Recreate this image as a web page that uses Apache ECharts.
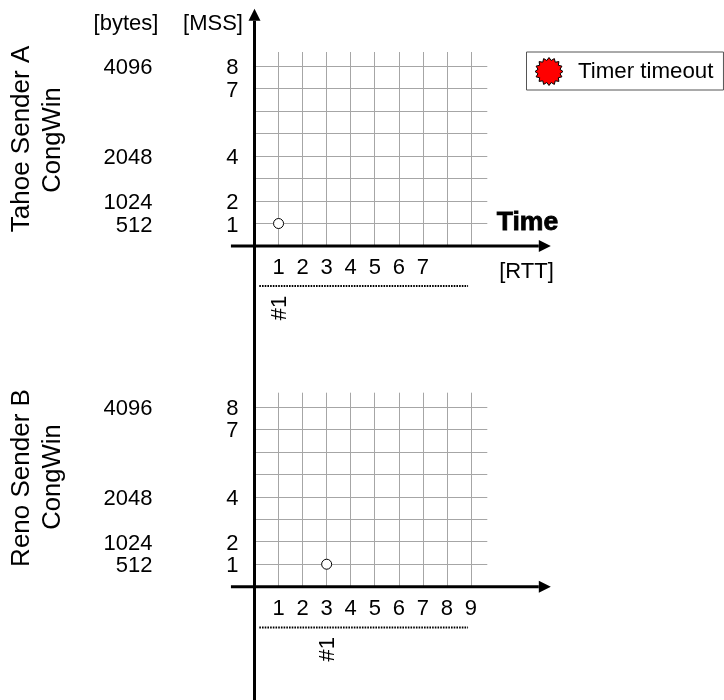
<!DOCTYPE html>
<html><head><meta charset="utf-8">
<style>html,body{margin:0;padding:0;background:#fff}#c{width:724px;height:700px}</style>
<script src="https://cdn.jsdelivr.net/npm/echarts@6/dist/echarts.min.js"></script>
</head><body><div id="c"></div>
<script>
const FONT = '"Liberation Sans", Arial, sans-serif';
const rttTicksA = [1,2,3,4,5,6,7];
const rttTicksB = [1,2,3,4,5,6,7,8,9];
const mssTicks = [1,2,4,7,8];
const byteTicks = [512,1024,2048,4096];
const pointA = [[1,1]];
const pointB = [[3,1]];
const roundLabelA = [[1,-2.76]];
const roundLabelB = [[3,-2.78]];
const dottedA = [[0.2,-1.78,8.88,-1.78]];
const dottedB = [[0.2,-1.81,8.88,-1.81]];
const timeArrow = [[-0.98,0,12.32,0]];
const yArrow = [[0,-20.5,0,10.55]];
const X_MAX = 9.68, Y_MAX = 8.63;

function starPath(n, R, r){
  let d = '';
  for (let i=0;i<n*2;i++){
    const a = Math.PI*i/n, q = i%2?r:R;
    d += (i?'L':'M') + (50+q*Math.sin(a)).toFixed(2) + ' ' + (50-q*Math.cos(a)).toFixed(2);
  }
  return 'path://' + d + 'Z';
}
const grids = [
  {left:254.5, top:52, width:232.8, height:194},
  {left:254.5, top:392.7, width:232.8, height:194}
];
const yRich = {a:{fontFamily:FONT, fontSize:22, color:'#000', padding:[4,0,0,0]}};
const xAxisOf = (i, ticks) => ({
  type:'value', gridIndex:i, min:0, max:X_MAX, interval:1,
  axisLine:{show:false}, axisTick:{show:false},
  splitLine:{show:true, showMinLine:false, showMaxLine:false, lineStyle:{color:'#a6a6a6',width:1}},
  axisLabel:{show:true, showMaxLabel:false, margin:11, fontFamily:FONT, fontSize:22, color:'#000', hideOverlap:false,
    formatter:v => ticks.includes(v) ? String(v) : ''}
});
const yMss = i => ({
  type:'value', gridIndex:i, min:0, max:Y_MAX, interval:1, position:'left',
  axisLine:{show:false}, axisTick:{show:false},
  splitLine:{show:true, showMinLine:false, showMaxLine:false, lineStyle:{color:'#a6a6a6',width:1}},
  axisLabel:{show:true, showMaxLabel:false, margin:16, rich:yRich, hideOverlap:false,
    formatter:v => mssTicks.includes(v) ? '{a|'+v+'}' : ''}
});
const yBytes = i => ({
  type:'value', gridIndex:i, min:0, max:Y_MAX*512, interval:512, position:'left', offset:86,
  axisLine:{show:false}, axisTick:{show:false}, splitLine:{show:false},
  axisLabel:{show:true, showMaxLabel:false, margin:16, rich:yRich, hideOverlap:false,
    formatter:v => byteTicks.includes(v) ? '{a|'+v+'}' : ''}
});
// straight segment with a filled arrow head at its far end, mapped through the axes
const arrowRender = (params, api) => {
  const a = api.coord([api.value(0),api.value(1)]), b = api.coord([api.value(2),api.value(3)]);
  const L = Math.hypot(b[0]-a[0],b[1]-a[1]), ux=(b[0]-a[0])/L, uy=(b[1]-a[1])/L, h=12, w=6;
  const base=[b[0]-ux*h,b[1]-uy*h];
  return {type:'group',children:[
    {type:'line',shape:{x1:a[0],y1:a[1],x2:base[0],y2:base[1]},style:{stroke:'#000',lineWidth:3}},
    {type:'polygon',shape:{points:[b,[base[0]-uy*w,base[1]+ux*w],[base[0]+uy*w,base[1]-ux*w]]},style:{fill:'#000'}}
  ]};
};
const arrow = (xi, yi, data) => ({type:'custom', xAxisIndex:xi, yAxisIndex:yi, clip:false, silent:true, z:5, renderItem:arrowRender, data});
const dots = (xi, yi, data) => ({
  type:'custom', xAxisIndex:xi, yAxisIndex:yi, clip:false, silent:true, z:4, data,
  renderItem:(p,api)=>{
    const a=api.coord([api.value(0),api.value(1)]), b=api.coord([api.value(2),api.value(3)]);
    return {type:'line',shape:{x1:a[0],y1:a[1],x2:b[0],y2:b[1]},style:{stroke:'#000',lineWidth:2,lineDash:[1.6,1.1]}};
  }
});
const point = (xi, yi, data) => ({
  type:'scatter', xAxisIndex:xi, yAxisIndex:yi, symbol:'circle', symbolSize:10, z:6, silent:true,
  itemStyle:{color:'#fff', borderColor:'#000', borderWidth:1, opacity:1}, data
});
const rotated = (xi, yi, data) => ({
  type:'custom', xAxisIndex:xi, yAxisIndex:yi, clip:false, silent:true, data,
  renderItem:(p,api)=>{
    const c=api.coord([api.value(0),api.value(1)]);
    return {type:'text',x:c[0]+1,y:c[1],rotation:Math.PI/2,
      style:{text:'#1',fontFamily:FONT,fontSize:22,fill:'#000',align:'center',verticalAlign:'middle'}};
  }
});
const txt = (text, x, y, opt={}) => ({
  type:'text', x, y, rotation:opt.rot||0, silent:true,
  style:{text, fontFamily:FONT, fontSize:opt.size||22, fontWeight:opt.weight||'normal', fill:'#000',
    align:'center', verticalAlign:'middle', stroke:opt.stroke||null, lineWidth:opt.lw||0}
});
const r90 = Math.PI/2;
const option = {
  animation:false, backgroundColor:'#fff',
  legend:{
    show:true, left:526.5, top:52, orient:'horizontal',
    backgroundColor:'#fff', borderColor:'#555', borderWidth:1, padding:[5,10,4,8],
    itemWidth:28, itemHeight:28, itemGap:0, selectedMode:false,
    textStyle:{fontFamily:FONT, fontSize:22.3, color:'#000', padding:[0,0,0,10]},
    data:[{name:'Timer timeout', icon:starPath(16,50,40), itemStyle:{color:'#ff0000',borderColor:'#000',borderWidth:1,opacity:1}}]
  },
  grid:grids.map(g=>({...g, containLabel:false, show:false})),
  xAxis:[xAxisOf(0,rttTicksA), xAxisOf(1,rttTicksB)],
  yAxis:[yMss(0), yBytes(0), yMss(1), yBytes(1)],
  series:[
    {name:'Timer timeout', type:'scatter', xAxisIndex:0, yAxisIndex:0, data:[], itemStyle:{color:'#ff0000',opacity:1}},
    arrow(0,0,timeArrow), arrow(1,2,timeArrow), arrow(0,0,yArrow),
    dots(0,0,dottedA), dots(1,2,dottedB),
    point(0,0,pointA), point(1,2,pointB),
    rotated(0,0,roundLabelA), rotated(1,2,roundLabelB)
  ],
  graphic:[
    txt('[bytes]',126,24), txt('[MSS]',213,24),
    txt('Time',527.5,223,{size:26.6,weight:'bold',stroke:'#000',lw:0.8}),
    txt('[RTT]',526.5,272),
    txt('Tahoe Sender A',22,139,{size:26,rot:r90}),
    txt('CongWin',53,140,{size:25.7,rot:r90}),
    txt('Reno Sender B',22,478,{size:26,rot:r90}),
    txt('CongWin',53,477,{size:25.7,rot:r90})
  ]
};
echarts.init(document.getElementById('c'),null,{renderer:'canvas'}).setOption(option);
</script></body></html>
